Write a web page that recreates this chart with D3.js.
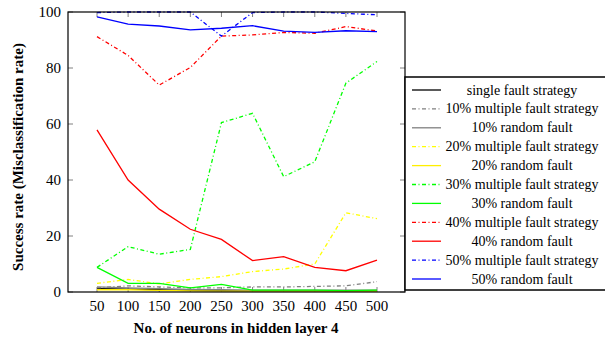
<!DOCTYPE html>
<html><head><meta charset="utf-8">
<script src="https://cdn.jsdelivr.net/npm/d3@7"></script>
<style>body{margin:0;background:#fff}svg{display:block}</style>
</head><body>
<svg id="c" width="605" height="342"></svg>
<script>
const neurons = [50,100,150,200,250,300,350,400,450,500];
const yTicks = [0,20,40,60,80,100];
const seriesNames = ["single fault strategy","10% multiple fault strategy","10% random fault","20% multiple fault strategy","20% random fault","30% multiple fault strategy","30% random fault","40% multiple fault strategy","40% random fault","50% multiple fault strategy","50% random fault"];
const singleFault   = [1.2,1.0,0.8,0.6,0.5,0.4,0.4,0.4,0.4,0.4];
const multi10       = [1.5,2.2,1.8,1.5,1.5,1.8,1.8,2.0,2.2,3.7];
const random10      = [1.8,1.5,1.2,0.9,0.8,0.7,0.7,0.7,0.7,0.7];
const multi20       = [3.1,4.5,2.9,4.5,5.5,7.3,8.2,10.0,28.3,26.2];
const random20      = [0.8,0.8,0.6,0.4,0.3,0.3,0.3,0.3,0.3,0.3];
const multi30       = [8.8,16.2,13.5,15.2,60.5,63.8,41.2,46.5,74.6,82.3];
const random30      = [8.8,3.1,3.1,1.5,2.7,0.7,0.7,0.7,0.5,0.7];
const multi40       = [91.2,84.5,73.9,80.2,91.4,91.8,92.7,92.4,94.8,93.2];
const random40      = [57.9,40.0,29.6,22.4,18.8,11.2,12.6,8.8,7.6,11.4];
const multi50       = [99.8,100,100,100,91.4,99.8,100,100,99.5,99.0];
const random50      = [98.3,95.7,95.0,93.6,94.2,95.1,93.2,92.7,93.3,93.0];

const seriesValues = [singleFault,multi10,random10,multi20,random20,multi30,random30,multi40,random40,multi50,random50];
const colors = ["#000000","#808080","#808080","#ffff00","#ffee00","#00ff00","#00ff00","#ff0000","#ff0000","#0000ff","#0000ff"];
const dashed = [false,true,false,true,false,true,false,true,false,true,false];
const DASH = "4,2.5,1,2.5";
const FONT = "Liberation Serif";

const svg = d3.select("#c");
const L=68, R=405, T=12, B=292;
const x = d3.scaleLinear().domain([50,500]).range([97,377]);
const y = d3.scaleLinear().domain([0,100]).range([B,T]);

// ticks (inside, gray)
const tg = svg.append("g").attr("stroke","#808080").attr("stroke-width",1);
neurons.forEach(v=>{
  tg.append("line").attr("x1",x(v)).attr("x2",x(v)).attr("y1",B).attr("y2",B-5);
  tg.append("line").attr("x1",x(v)).attr("x2",x(v)).attr("y1",T).attr("y2",T+5);
});
yTicks.forEach(v=>{
  tg.append("line").attr("x1",L).attr("x2",L+5).attr("y1",y(v)).attr("y2",y(v));
  tg.append("line").attr("x1",R).attr("x2",R-5).attr("y1",y(v)).attr("y2",y(v));
});

// lines
const line = d3.line().x((d,i)=>x(neurons[i])).y(d=>y(d));
seriesValues.forEach((vals,k)=>{
  svg.append("path").datum(vals).attr("d",line).attr("fill","none")
    .attr("stroke",colors[k]).attr("stroke-width",1.3)
    .attr("stroke-dasharray",dashed[k]?DASH:null);
});

// frame
svg.append("rect").attr("x",L).attr("y",T).attr("width",R-L).attr("height",B-T)
  .attr("fill","none").attr("stroke","#000").attr("stroke-width",1.2);

// tick labels
neurons.forEach(v=>{
  svg.append("text").attr("x",x(v)).attr("y",311).attr("text-anchor","middle")
    .attr("font-family",FONT).attr("font-size",15).text(v);
});
yTicks.forEach(v=>{
  svg.append("text").attr("x",61).attr("y",y(v)+5).attr("text-anchor","end")
    .attr("font-family",FONT).attr("font-size",15).text(v);
});

// axis titles
svg.append("text").attr("x",236).attr("y",333).attr("text-anchor","middle")
  .attr("font-family",FONT).attr("font-size",15).attr("font-weight","bold").text("No. of neurons in hidden layer 4");
svg.append("text").attr("transform","translate(23,157) rotate(-90)").attr("text-anchor","middle")
  .attr("font-family",FONT).attr("font-size",15).attr("font-weight","bold").text("Success rate (Misclassification rate)");

// legend
const lg = svg.append("g");
lg.append("rect").attr("x",405).attr("y",77).attr("width",215).attr("height",213)
  .attr("fill","#fff").attr("stroke","#000").attr("stroke-width",1.5);
seriesNames.forEach((name,k)=>{
  const yy = 90 + k*18.9;
  lg.append("line").attr("x1",412).attr("x2",441).attr("y1",yy).attr("y2",yy)
    .attr("stroke",colors[k]).attr("stroke-width",1.3)
    .attr("stroke-dasharray",dashed[k]?DASH:null);
  lg.append("text").attr("x",522).attr("y",yy+4.5).attr("text-anchor","middle")
    .attr("font-family",FONT).attr("font-size",14).text(name);
});
</script>
</body></html>
